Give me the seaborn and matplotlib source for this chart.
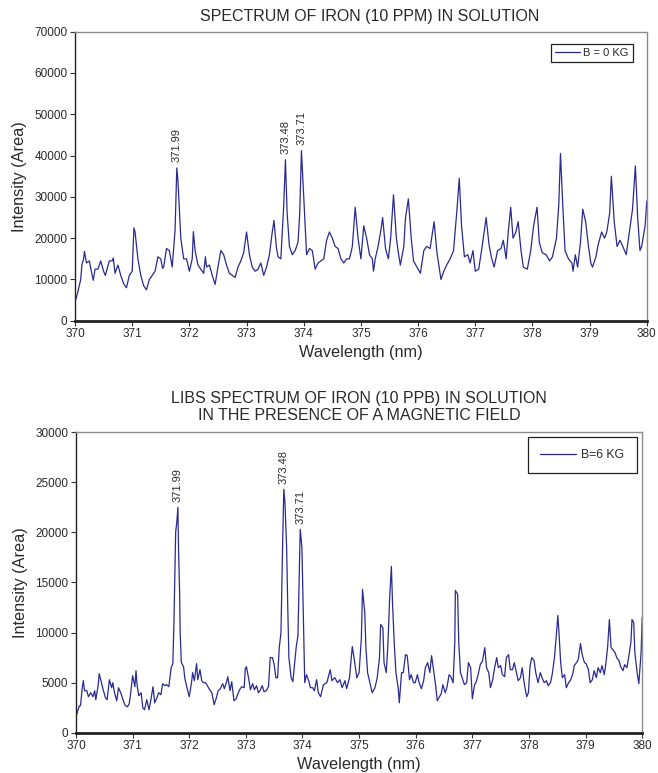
import matplotlib
matplotlib.use("Agg")
import matplotlib.pyplot as plt
import seaborn as sns
import pandas as pd

# ---- B = 0 kG spectrum, Fe 10 ppm ----
wl_b0 = [370.00, 370.05, 370.10, 370.12, 370.15, 370.165, 370.20, 370.25, 370.30, 370.32,
         370.35, 370.40, 370.45, 370.50, 370.53, 370.55, 370.60, 370.65, 370.67, 370.70,
         370.75, 370.80, 370.85, 370.90, 370.95, 371.00, 371.03, 371.05, 371.10, 371.15,
         371.20, 371.25, 371.30, 371.35, 371.40, 371.45, 371.50, 371.53, 371.55, 371.60,
         371.65, 371.70, 371.75, 371.78, 371.80, 371.85, 371.90, 371.95, 372.00, 372.05,
         372.07, 372.10, 372.15, 372.20, 372.25, 372.28, 372.30, 372.35, 372.40, 372.45,
         372.50, 372.55, 372.60, 372.65, 372.70, 372.75, 372.80, 372.85, 372.90, 372.95,
         373.00, 373.05, 373.10, 373.15, 373.20, 373.25, 373.30, 373.35, 373.40, 373.45,
         373.48, 373.52, 373.55, 373.60, 373.65, 373.68, 373.71, 373.75, 373.80, 373.85,
         373.90, 373.93, 373.96, 374.00, 374.05, 374.10, 374.15, 374.20, 374.25, 374.30,
         374.35, 374.40, 374.45, 374.50, 374.55, 374.60, 374.65, 374.70, 374.75, 374.80,
         374.85, 374.90, 374.95, 375.00, 375.05, 375.10, 375.15, 375.20, 375.22, 375.25,
         375.30, 375.35, 375.38, 375.43, 375.48, 375.52, 375.57, 375.62, 375.66, 375.69,
         375.75, 375.78, 375.83, 375.88, 375.92, 375.98, 376.04, 376.10, 376.15, 376.21,
         376.28, 376.33, 376.40, 376.45, 376.50, 376.56, 376.62, 376.68, 376.72, 376.76,
         376.81, 376.87, 376.91, 376.96, 377.00, 377.06, 377.12, 377.19, 377.24, 377.28,
         377.33, 377.39, 377.45, 377.49, 377.54, 377.58, 377.62, 377.66, 377.71, 377.75,
         377.80, 377.84, 377.91, 377.97, 378.02, 378.08, 378.12, 378.17, 378.24, 378.30,
         378.35, 378.42, 378.46, 378.49, 378.53, 378.57, 378.63, 378.69, 378.71, 378.75,
         378.79, 378.84, 378.88, 378.93, 378.98, 379.02, 379.05, 379.11, 379.15, 379.21,
         379.26, 379.30, 379.35, 379.38, 379.43, 379.48, 379.53, 379.58, 379.64, 379.69,
         379.75, 379.80, 379.84, 379.88, 379.91, 379.97, 380.00]
int_b0 = [4500, 7000, 10000, 13500, 15000, 16800, 14000, 14500, 11000, 9800,
          12500, 12500, 14500, 12000, 11000, 12000, 14500, 14500, 15200, 11500,
          13500, 11000, 9000, 8000, 11000, 12000, 22500, 21500, 15000, 11000,
          8500, 7500, 10000, 11000, 12000, 15500, 15000, 12700, 13000, 17500,
          17000, 13000, 22000, 37000, 34000, 20000, 15000, 15000, 12000, 15000,
          21600, 17000, 13500, 12500, 11500, 15500, 13000, 13500, 11000, 8800,
          13000, 17000, 16000, 13500, 11500, 11000, 10500, 13000, 14500, 16500,
          21500, 16000, 13000, 12000, 12500, 14000, 11000, 13000, 16000, 21500,
          24300, 18000, 15500, 15000, 28000, 39000, 26000, 18000, 16000, 17000,
          19000, 26000, 41200, 30000, 16000, 17500, 17000, 12500, 14000, 14500,
          15000, 19500, 21500, 20000, 18000, 17500, 15000, 14000, 15000, 15000,
          18000, 27500, 20000, 15000, 23000, 20000, 16000, 15000, 12000, 15000,
          18000, 22000, 25000, 17500, 15000, 20000, 30500, 20000, 16000, 13500,
          18000, 25000, 29500, 20000, 14500, 13000, 11500, 17000, 18000, 17500,
          24000, 16500, 10000, 12000, 13500, 15000, 17000, 27000, 34500, 23000,
          15500, 16000, 14000, 17000, 12000, 12500, 18000, 25000, 18500, 15500,
          13000, 17000, 17500, 19500, 15000, 22000, 27500, 20000, 21500, 24000,
          17000, 13000, 12500, 17000, 23000, 27500, 19000, 16500, 16000, 14500,
          15500, 20000, 28000, 40500, 28000, 17000, 15000, 14000, 12000, 16000,
          13000, 19000, 27000, 24000, 18000, 14000, 13000, 15500, 18500, 21500,
          20000, 21500, 26000, 35000, 24000, 18000, 19500, 18000, 16000, 21000,
          27000, 37500, 25000, 17000, 18000, 23000, 29000]

# ---- B = 6 kG spectrum, Fe 10 ppb ----
wl_b6 = [370.00, 370.02, 370.06, 370.08, 370.11, 370.13, 370.15, 370.19, 370.22, 370.26,
         370.30, 370.33, 370.35, 370.39, 370.41, 370.45, 370.48, 370.52, 370.55, 370.59,
         370.63, 370.65, 370.68, 370.72, 370.75, 370.79, 370.83, 370.87, 370.91, 370.94,
         370.96, 371.00, 371.04, 371.06, 371.08, 371.11, 371.15, 371.18, 371.21, 371.25,
         371.29, 371.32, 371.36, 371.39, 371.43, 371.46, 371.50, 371.53, 371.57, 371.60,
         371.64, 371.68, 371.71, 371.73, 371.76, 371.78, 371.80, 371.81, 371.83, 371.84,
         371.86, 371.90, 371.92, 371.96, 372.00, 372.04, 372.06, 372.09, 372.13, 372.15,
         372.19, 372.22, 372.25, 372.29, 372.32, 372.36, 372.40, 372.44, 372.48, 372.51,
         372.55, 372.59, 372.62, 372.66, 372.68, 372.72, 372.75, 372.79, 372.83, 372.86,
         372.90, 372.93, 372.97, 372.99, 373.01, 373.05, 373.08, 373.12, 373.15, 373.19,
         373.22, 373.25, 373.29, 373.32, 373.36, 373.40, 373.43, 373.47, 373.50, 373.53,
         373.56, 373.59, 373.62, 373.65, 373.67, 373.69, 373.72, 373.74, 373.76, 373.80,
         373.83, 373.87, 373.89, 373.92, 373.94, 373.96, 373.99, 374.01, 374.04, 374.07,
         374.11, 374.14, 374.18, 374.21, 374.25, 374.28, 374.32, 374.37, 374.43, 374.49,
         374.52, 374.57, 374.62, 374.66, 374.70, 374.75, 374.78, 374.83, 374.88, 374.91,
         374.96, 375.00, 375.04, 375.06, 375.10, 375.12, 375.15, 375.19, 375.23, 375.28,
         375.32, 375.36, 375.38, 375.42, 375.44, 375.48, 375.51, 375.54, 375.57, 375.59,
         375.62, 375.65, 375.69, 375.71, 375.75, 375.78, 375.82, 375.85, 375.89, 375.92,
         375.96, 375.99, 376.03, 376.06, 376.10, 376.14, 376.17, 376.21, 376.25, 376.28,
         376.32, 376.35, 376.38, 376.41, 376.45, 376.48, 376.52, 376.55, 376.59, 376.62,
         376.66, 376.69, 376.70, 376.74, 376.76, 376.79, 376.82, 376.86, 376.90, 376.93,
         376.97, 377.00, 377.04, 377.07, 377.11, 377.14, 377.18, 377.22, 377.25, 377.29,
         377.32, 377.36, 377.39, 377.43, 377.46, 377.50, 377.53, 377.57, 377.60, 377.64,
         377.67, 377.71, 377.74, 377.78, 377.81, 377.85, 377.88, 377.92, 377.96, 377.99,
         378.02, 378.05, 378.09, 378.12, 378.16, 378.20, 378.23, 378.27, 378.31, 378.34,
         378.38, 378.41, 378.45, 378.48, 378.51, 378.53, 378.56, 378.59, 378.63, 378.66,
         378.70, 378.73, 378.77, 378.80, 378.84, 378.87, 378.91, 378.94, 378.98, 379.01,
         379.05, 379.08, 379.12, 379.15, 379.19, 379.22, 379.26, 379.29, 379.33, 379.36,
         379.39, 379.42, 379.45, 379.48, 379.52, 379.55, 379.59, 379.62, 379.66, 379.69,
         379.73, 379.76, 379.80, 379.82, 379.85, 379.87, 379.91, 379.94, 379.98, 380.00]
int_b6 = [1600, 2000, 2700, 2700, 4500, 5200, 4200, 4200, 3600, 4000,
          3600, 4200, 3300, 4700, 5900, 5000, 4300, 3500, 3300, 5300,
          4500, 5000, 4000, 3200, 4500, 4000, 3300, 2700, 2600, 2900,
          3700, 5700, 4600, 6200, 4700, 3700, 4000, 2500, 2300, 3300,
          2300, 3200, 4600, 3000, 3500, 4000, 3800, 4900, 4700, 4800,
          4600, 6500, 6900, 11000, 20000, 21000, 22500, 18500, 14000, 10000,
          7000, 6600, 5500, 4500, 3600, 5000, 6000, 5200, 6900, 5300,
          6300, 5200, 5000, 5000, 4700, 4300, 4000, 2800, 3500, 4200,
          4400, 4900, 4400, 5100, 5600, 4200, 5100, 3200, 3400, 3900,
          4400, 4600, 4500, 6400, 6600, 5400, 4300, 4900, 4300, 4700,
          4000, 4200, 4700, 4100, 4200, 4600, 7500, 7500, 6800, 5500,
          5500, 8500, 10000, 19000, 24300, 23000, 18500, 12500, 7500, 5500,
          5100, 7500, 8600, 9700, 15000, 20300, 18500, 13000, 5000, 5800,
          5200, 4500, 4500, 4200, 5300, 4000, 3600, 4800, 5000, 6300,
          5200, 5500, 5000, 5300, 4500, 5200, 4400, 5500, 8600, 7500,
          5500, 6000, 9500, 14300, 12000, 8500, 6000, 5000, 4000, 4500,
          5500, 7500, 10800, 10500, 7000, 6000, 9000, 13500, 16600, 13000,
          9000, 6000, 4500, 3000, 6000, 6000, 7800, 7700, 5300, 5800,
          5000, 5000, 5800, 5000, 4400, 5200, 6500, 7000, 6000, 7700,
          6000, 4800, 3200, 3500, 3900, 4800, 4000, 4500, 5800, 5600,
          5000, 9000, 14200, 13800, 9000, 6000, 5500, 4800, 5000, 7000,
          6500, 3400, 4800, 5100, 6000, 6800, 7200, 8500, 6500, 6000,
          4500, 5300, 6400, 7500, 6500, 6700, 5800, 5600, 7500, 7800,
          6300, 6300, 7000, 6000, 5200, 5500, 6500, 4800, 3600, 4000,
          6700, 7500, 7200, 6000, 5000, 6000, 5500, 5000, 5200, 4700,
          5000, 5800, 7500, 9500, 11700, 10000, 7000, 5500, 5800, 4500,
          5000, 5200, 5800, 6700, 7000, 7300, 8900, 7800, 7000, 6900,
          6300, 5000, 5300, 6200, 5500, 6500, 6000, 6700, 5800, 7000,
          8600, 11300, 8500, 8300, 8000, 7500, 7200, 6600, 6200, 6800,
          6500, 7500, 9000, 11300, 11000, 8000, 6000, 4900, 8000, 11500]

# Fe I line identifications and the peak each one is written above
line_names = ["371.99", "373.48", "373.71"]
b0_peak_wl = [371.78, 373.68, 373.96]
b0_peak_int = [37000, 39000, 41200]
b6_peak_wl = [371.80, 373.67, 373.96]
b6_peak_int = [22500, 24300, 20300]

x_ticks = [370, 371, 372, 373, 374, 375, 376, 377, 378, 379, 380]

LINE = "#2a2a92"
TXT = "#2a2a2a"
FRAME = "#8c8c8c"

sns.set_theme(style="white")
plt.rcParams["font.family"] = ["Liberation Sans", "DejaVu Sans"]
plt.rcParams["text.color"] = TXT
plt.rcParams["axes.labelcolor"] = TXT
plt.rcParams["xtick.color"] = TXT
plt.rcParams["ytick.color"] = TXT

fig = plt.figure(figsize=(6.58, 7.73), dpi=100)
ax1 = fig.add_axes([0.114, 0.585, 0.869, 0.374])
ax2 = fig.add_axes([0.1155, 0.052, 0.8605, 0.389])

df0 = pd.DataFrame({"wl": wl_b0, "I": int_b0})
df6 = pd.DataFrame({"wl": wl_b6, "I": int_b6})

sns.lineplot(data=df0, x="wl", y="I", ax=ax1, color=LINE, linewidth=0.9,
             label="B = 0 KG", sort=False, estimator=None)
sns.lineplot(data=df6, x="wl", y="I", ax=ax2, color=LINE, linewidth=0.9,
             label="B=6 KG", sort=False, estimator=None)


def style_axes(ax, ymax, ystep):
    ax.set_xlim(370, 380)
    ax.set_ylim(0, ymax)
    ax.set_xticks(x_ticks)
    ax.set_xticklabels([str(t) for t in x_ticks])
    ax.set_yticks(range(0, ymax + 1, ystep))
    ax.tick_params(axis="both", which="both", direction="out", length=3.5,
                   width=0.8, labelsize=8.5, pad=2,
                   bottom=True, left=True, color="#333333")
    ax.set_xlabel("Wavelength (nm)", fontsize=11.7, labelpad=3)
    ax.set_ylabel("Intensity (Area)", fontsize=11.7, labelpad=5)
    for side in ("top", "right"):
        ax.spines[side].set_color(FRAME)
        ax.spines[side].set_linewidth(1.0)
    ax.spines["left"].set_color("#222222")
    ax.spines["left"].set_linewidth(1.0)
    ax.spines["bottom"].set_color("#222222")
    ax.spines["bottom"].set_linewidth(2.0)
    ax.grid(False)


style_axes(ax1, 70000, 10000)
style_axes(ax2, 30000, 5000)

ax1.set_title("SPECTRUM OF IRON (10 PPM) IN SOLUTION", fontsize=11.5, pad=8, x=0.516)
ax2.set_title("LIBS SPECTRUM OF IRON (10 PPB) IN SOLUTION\nIN THE PRESENCE OF A MAGNETIC FIELD",
              fontsize=11.5, pad=9, linespacing=1.15)

for name, x, y in zip(line_names, b0_peak_wl, b0_peak_int):
    ax1.annotate(name, (x, y), xytext=(0, 4), textcoords="offset points",
                 rotation=90, ha="center", va="bottom", fontsize=8, color=TXT)
for name, x, y in zip(line_names, b6_peak_wl, b6_peak_int):
    ax2.annotate(name, (x, y), xytext=(0, 4), textcoords="offset points",
                 rotation=90, ha="center", va="bottom", fontsize=8, color=TXT)

leg1 = ax1.legend(loc="upper right", fontsize=8, frameon=True, fancybox=False,
                  handlelength=2.3, handletextpad=0.3, borderpad=0.35,
                  bbox_to_anchor=(0.985, 0.975))
leg2 = ax2.legend(loc="upper right", fontsize=8.8, frameon=True, fancybox=False,
                  handlelength=3.0, handletextpad=0.4, borderpad=1.0,
                  borderaxespad=0.0, bbox_to_anchor=(0.99, 0.985))
for leg in (leg1, leg2):
    fr = leg.get_frame()
    fr.set_edgecolor("#222222")
    fr.set_linewidth(0.9)
    fr.set_alpha(1)

fig.savefig("out.png", dpi=100)
